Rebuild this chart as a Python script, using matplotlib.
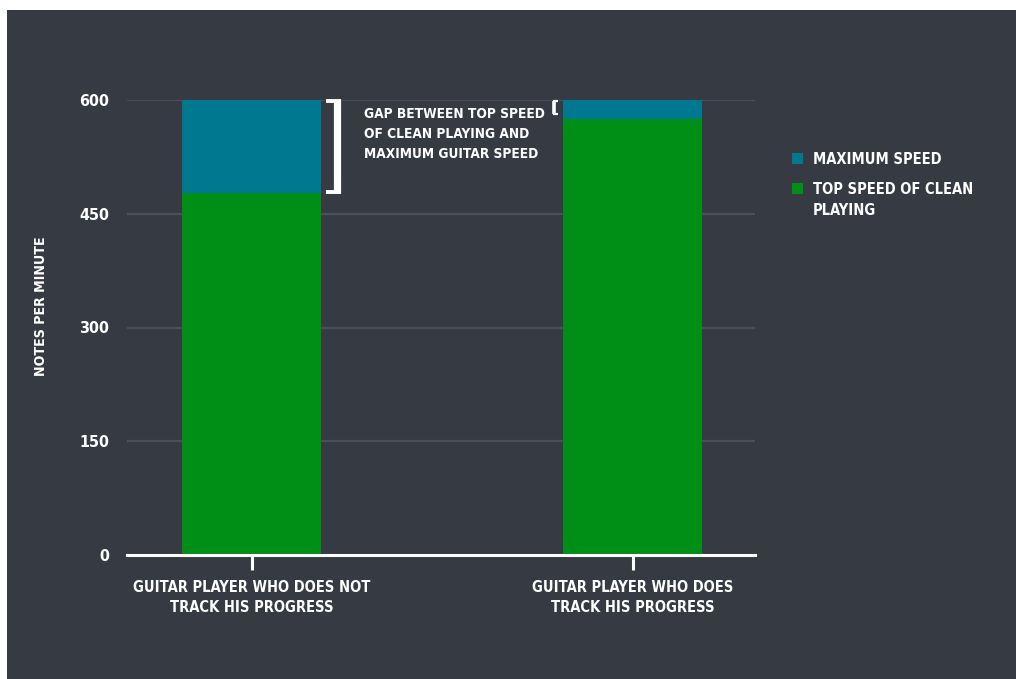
import matplotlib
matplotlib.use("Agg")
import matplotlib.pyplot as plt
from matplotlib import font_manager
from matplotlib.patches import Rectangle

categories = ["GUITAR PLAYER WHO DOES NOT\nTRACK HIS PROGRESS",
              "GUITAR PLAYER WHO DOES\nTRACK HIS PROGRESS"]
clean_speed = [477, 575]
max_speed = [600, 600]
yticks = [0, 150, 300, 450, 600]
series_labels = ["MAXIMUM SPEED", "TOP SPEED OF CLEAN\nPLAYING"]
annotation = "GAP BETWEEN TOP SPEED\nOF CLEAN PLAYING AND\nMAXIMUM GUITAR SPEED"

BG = "#363a42"
BLUE = "#007990"
GREEN = "#008f16"
GRID = "#4b5058"
W = 1016; H = 679

# choose the narrowest available font
fl = font_manager.fontManager.ttflist
names = {f.name for f in fl}
stretch = "normal"
scale = 0.85
if "Liberation Sans Narrow" in names:
    fam = ["Liberation Sans Narrow", "DejaVu Sans"]
    scale = 1.1
elif any("Condensed" in f.fname and "DejaVu" in f.fname for f in fl):
    fam = ["DejaVu Sans"]
    stretch = "condensed"
    scale = 1.0
else:
    fam = ["DejaVu Sans"]

plt.rcParams['font.family'] = fam
plt.rcParams['font.weight'] = 'bold'
plt.rcParams['font.stretch'] = stretch

fig = plt.figure(figsize=(W/100, H/100), dpi=100, facecolor="white")
fig.patches.append(Rectangle((7/W, 0), 1, 1 - 10/H, transform=fig.transFigure,
                             facecolor=BG, edgecolor="none", zorder=-10))

ax = fig.add_axes([127/W, 1 - 555/H, (755-127)/W, (555-100)/H])
ax.set_facecolor(BG)
ax.patch.set_alpha(0)

x = list(range(len(categories)))
bw = 0.364
gap = [m - c for m, c in zip(max_speed, clean_speed)]
b_green = ax.bar(x, clean_speed, width=bw, color=GREEN, zorder=3)
b_blue = ax.bar(x, gap, bottom=clean_speed, width=bw, color=BLUE, zorder=3)

ax.set_xlim(-0.327, 1.321)
ax.set_ylim(0, 600)
ax.set_yticks(yticks)
ax.set_yticklabels([str(v) for v in yticks], color="white", fontsize=11.5 * scale)
ax.tick_params(axis='y', length=0, pad=13)
ax.set_xticks(x)
ax.set_xticklabels(categories, color="white", fontsize=10.5 * scale, linespacing=1.45)
ax.tick_params(axis='x', length=11, width=2.2, color="white", pad=7)
ax.yaxis.grid(True, color=GRID, linewidth=1.6, zorder=0)
ax.set_axisbelow(True)
for s in ["top", "right", "left"]:
    ax.spines[s].set_visible(False)
ax.spines["bottom"].set_color("white")
ax.spines["bottom"].set_linewidth(2.2)
ax.spines["bottom"].set_zorder(5)

# bracket right of bar 1 (closing "]")
r1 = x[0] + bw / 2
y0, y1 = clean_speed[0], max_speed[0]
ax.plot([r1 + 0.012, r1 + 0.052], [y1 - 1.5, y1 - 1.5], color="white", lw=2.8, solid_capstyle="butt", clip_on=False, zorder=6)
ax.plot([r1 + 0.012, r1 + 0.052], [y0 + 1.5, y0 + 1.5], color="white", lw=2.8, solid_capstyle="butt", clip_on=False, zorder=6)
ax.plot([r1 + 0.043, r1 + 0.043], [y0, y1], color="white", lw=5.2, solid_capstyle="butt", clip_on=False, zorder=6)

# bracket left of bar 2 (opening "[")
l2 = x[1] - bw / 2
y0, y1 = clean_speed[1], max_speed[1]
ax.plot([l2 - 0.024, l2 - 0.024], [y0 + 6, y1 - 1], color="white", lw=2.6, solid_capstyle="butt", clip_on=False, zorder=6)
ax.plot([l2 - 0.027, l2 - 0.014], [y1 - 1.5, y1 - 1.5], color="white", lw=1.6, solid_capstyle="butt", clip_on=False, zorder=6)
ax.plot([l2 - 0.027, l2 - 0.014], [y0 + 6.5, y0 + 6.5], color="white", lw=1.6, solid_capstyle="butt", clip_on=False, zorder=6)

ax.text(0.296, 591, annotation, color="white", fontsize=9.8 * scale, va="top", ha="left",
        linespacing=1.55, zorder=6)

fig.text(41/W, 1 - 306/H, "NOTES PER MINUTE", color="white", fontsize=10.2 * scale,
         rotation=90, ha="center", va="center")

# legend (squares aligned to the first line of each label)
handles = [b_blue[0], b_green[0]]
tops = [153, 183]
for h, lab, t in zip(handles, series_labels, tops):
    fig.patches.append(Rectangle((792/W, 1 - (t + 11)/H), 11/W, 11/H,
                                 transform=fig.transFigure,
                                 facecolor=h.get_facecolor(), edgecolor="none"))
    fig.text(813/W, 1 - (t - 1)/H, lab, color="white", fontsize=10.5 * scale,
             ha="left", va="top", linespacing=1.5)

fig.savefig("out.png", dpi=100, facecolor="white")
